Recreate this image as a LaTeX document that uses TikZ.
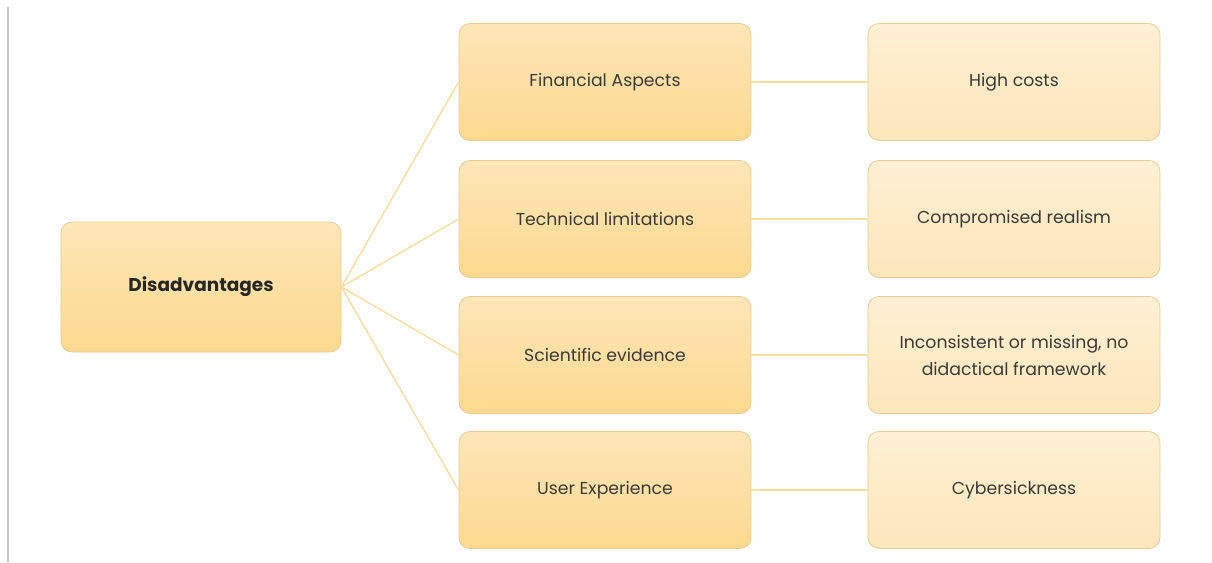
\documentclass[tikz,border=0pt]{standalone}
\usepackage{xcolor}
\usepackage{fontspec}
\setmainfont{Poppins}

\definecolor{boxedge}{HTML}{E6CB93}
\definecolor{boxtop}{HTML}{FDE6B8}
\definecolor{boxbot}{HTML}{FCD98E}
\definecolor{lighttop}{HTML}{FEF0D4}
\definecolor{lightbot}{HTML}{FDE6BA}
\definecolor{linkcol}{HTML}{F7DB98}
\definecolor{txt}{HTML}{3A3A3A}

\begin{document}
\begin{tikzpicture}[x=1pt, y=-1pt,
    box/.style={draw=boxedge, line width=0.8pt, rounded corners=11pt,
      top color=boxtop, bottom color=boxbot, text=txt, align=center,
      minimum width=292pt, minimum height=117pt,
      font=\fontsize{17.3}{27}\selectfont},
    leaf/.style={box, top color=lighttop, bottom color=lightbot},
    link/.style={draw=linkcol, line width=1.3pt}]
      \useasboundingbox (0,0) rectangle (1212,562);
      \draw[black!22, line width=1.5pt] (8,7) -- (8,562);
      % root
      \node[box, minimum width=280pt, minimum height=130pt, text=black!85,
        font=\fontsize{18.5}{22}\selectfont\bfseries] (dis) at (201,287) {Disadvantages};
      % categories
      \node[box] (fin) at (605,82) {Financial Aspects};
      \node[box] (tech) at (605,219) {Technical limitations};
      \node[box] (sci) at (605,355) {Scientific evidence};
      \node[box] (user) at (605,490) {User Experience};
      % consequences
      \node[leaf] (cost) at (1014,82) {High costs};
      \node[leaf] (real) at (1014,219) {Compromised realism};
      \node[leaf] (frame) at (1014,355) {Inconsistent or missing, no\\didactical framework};
      \node[leaf] (sick) at (1014,490) {Cybersickness};
      % links
      \foreach \c in {fin,tech,sci,user}
        \draw[link] (dis.east) -- (\c.west);
      \draw[link] (fin) -- (cost);
      \draw[link] (tech) -- (real);
      \draw[link] (sci) -- (frame);
      \draw[link] (user) -- (sick);
\end{tikzpicture}
\end{document}
